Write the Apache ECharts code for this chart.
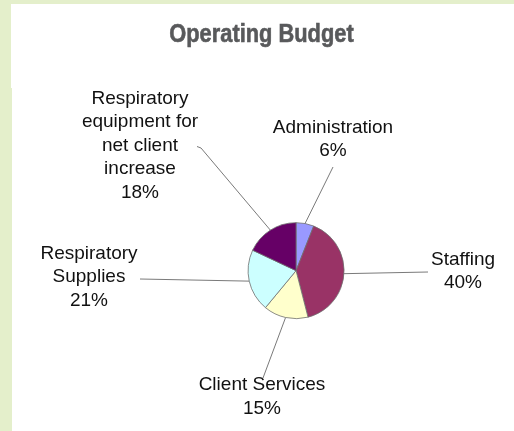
<!DOCTYPE html>
<html>
<head>
<meta charset="utf-8">
<script src="https://cdn.jsdelivr.net/npm/echarts@6/dist/echarts.min.js"></script>
<style>
html,body{margin:0;padding:0;background:#E4EFCB;}
#chart{width:514px;height:431px;}
</style>
</head>
<body>
<div id="chart"></div>
<script>
var categories = ['Administration', 'Staffing', 'Client Services', 'Respiratory\nSupplies', 'Respiratory\nequipment for\nnet client\nincrease'];
var values = [6, 40, 15, 21, 18];
var colors = ['#9999FF', '#993366', '#FFFFCC', '#CCFFFF', '#660066'];

// label anchor positions and guide-line end points (layout only)
var labelPos = [[333, 139.5], [463, 271.5], [262, 397], [89, 277], [140, 145.5]];
var lineEnds = [[[333, 167]], [[428, 272]], [[263, 378]], [[140, 279]], [[201, 148], [197, 146.5]]];

var chart = echarts.init(document.getElementById('chart'), null, {renderer: 'canvas'});
chart.setOption({
  animation: false,
  backgroundColor: '#E4EFCB',
  graphic: [
    {type: 'rect', silent: true, z: -10, shape: {x: 11, y: 4, width: 503, height: 84}, style: {fill: '#ffffff'}},
    {type: 'rect', silent: true, z: -10, shape: {x: 12, y: 87, width: 502, height: 344}, style: {fill: '#ffffff'}},
    {type: 'text', silent: true, x: 261.5, y: 34.5, scaleX: 0.84, style: {text: 'Operating Budget', fill: '#58595B', font: 'bold 26px "Liberation Sans", Arial, sans-serif', align: 'center', verticalAlign: 'middle', stroke: '#58595B', lineWidth: 0.6}}
  ],
  series: [{
    type: 'pie',
    center: ['57.6%', '62.8%'],
    radius: 48,
    startAngle: 90,
    clockwise: true,
    silent: true,
    data: categories.map(function (c, i) {
      return {name: c, value: values[i], itemStyle: {color: colors[i]}};
    }),
    itemStyle: {borderColor: '#6f6f6f', borderWidth: 0.8},
    label: {
      show: true,
      position: 'outside',
      formatter: '{b}\n{d}%',
      color: '#111111',
      fontFamily: '"Liberation Sans", Arial, sans-serif',
      fontSize: 19,
      lineHeight: 23.5,
      align: 'center'
    },
    labelLine: {show: true, length: 20, length2: 10, lineStyle: {color: '#7a7a7a', width: 1}},
    labelLayout: function (params) {
      var i = params.dataIndex;
      var start = params.labelLinePoints ? params.labelLinePoints[0] : null;
      var res = {x: labelPos[i][0], y: labelPos[i][1], align: 'center', verticalAlign: 'middle'};
      if (start) {
        res.labelLinePoints = [start].concat(lineEnds[i]);
      }
      return res;
    }
  }]
});
</script>
</body>
</html>
